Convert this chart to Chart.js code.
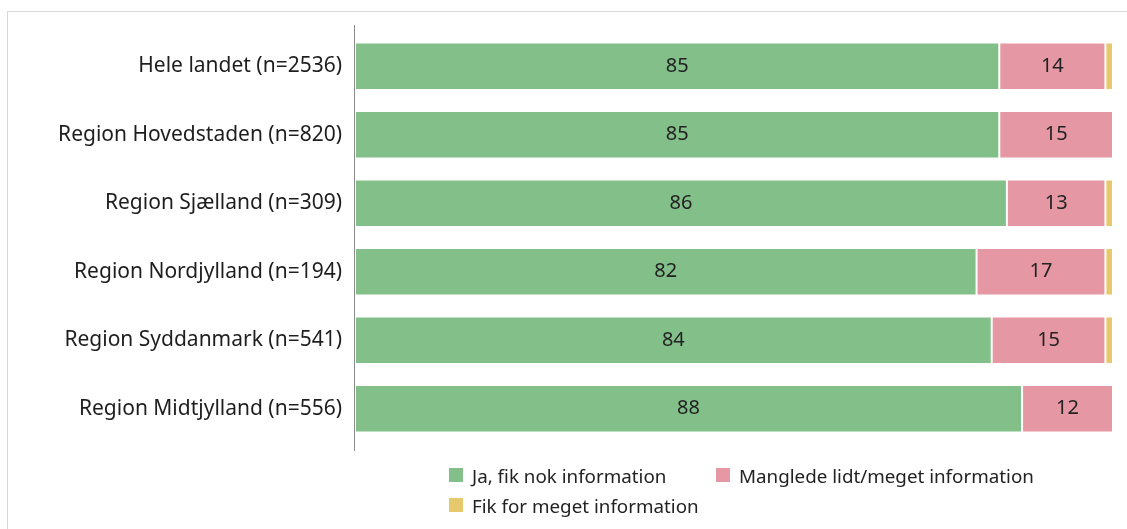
<!DOCTYPE html>
<html>
<head>
<meta charset="utf-8">
<script src="https://cdn.jsdelivr.net/npm/chart.js@4/dist/chart.umd.min.js"></script>
<style>
  html, body { margin: 0; padding: 0; background: #fff; }
  #wrap { position: relative; width: 1127px; height: 529px; overflow: hidden; }
  #frame { position: absolute; left: 7px; top: 11px; width: 1200px; height: 600px;
           border-left: 1px solid #d9d9d9; border-top: 1px solid #d9d9d9; }
  canvas { position: absolute; left: 0; top: 0; }
  .leg { position: absolute; font-family: "Noto Sans", sans-serif; font-size: 18.8px; color: #222; }
  .leg span { position: absolute; left: 0; top: 4px; width: 14px; height: 14px; }
  .leg div { position: absolute; left: 23px; top: 0; white-space: nowrap; line-height: 24px; }
</style>
</head>
<body>
<div id="wrap">
  <div id="frame"></div>
  <canvas id="infoChart" width="1127" height="529"></canvas>
  <div id="legend"></div>
</div>
<script>
// DATA
const regions = ['Hele landet (n=2536)', 'Region Hovedstaden (n=820)', 'Region Sjælland (n=309)',
                 'Region Nordjylland (n=194)', 'Region Syddanmark (n=541)', 'Region Midtjylland (n=556)'];
const seriesNames = ['Ja, fik nok information', 'Manglede lidt/meget information', 'Fik for meget information'];
const nokInfo = [85, 85, 86, 82, 84, 88];
const mangledeInfo = [14, 15, 13, 17, 15, 12];
const forMegetInfo = [1, 0, 1, 1, 1, 0];
const colors = ['#82bf89', '#e598a4', '#e7c96d'];

// value labels in the middle of each segment
const valueLabels = {
    id: 'valueLabels',
    afterDatasetsDraw(chart) {
        const c = chart.ctx;
        c.save();
        c.font = '20px "Noto Sans", sans-serif';
        c.fillStyle = '#222';
        c.textAlign = 'center';
        c.textBaseline = 'middle';
        chart.data.datasets.forEach((ds, i) => {
            chart.getDatasetMeta(i).data.forEach((bar, j) => {
                const v = ds.data[j];
                if (v < 5) return;
                c.fillText(v, (bar.x + bar.base) / 2, bar.y);
            });
        });
        c.restore();
    }
};

// left axis line, a bit longer than the plot area
const axisLine = {
    id: 'axisLine',
    afterDraw(chart) {
        const c = chart.ctx;
        const a = chart.chartArea;
        c.save();
        c.strokeStyle = '#8c8c8c';
        c.lineWidth = 1;
        c.beginPath();
        c.moveTo(a.left - 0.5, 25);
        c.lineTo(a.left - 0.5, 451);
        c.stroke();
        c.restore();
    }
};

const ctx = document.getElementById('infoChart').getContext('2d');
const infoChart = new Chart(ctx, {
    type: 'bar',
    data: {
        labels: regions,
        datasets: [nokInfo, mangledeInfo, forMegetInfo].map((d, i) => ({
            label: seriesNames[i],
            data: d,
            backgroundColor: colors[i],
            borderColor: 'rgba(255,255,255,0.85)',
            borderWidth: 1,
            borderSkipped: false,
            categoryPercentage: 0.69,
            barPercentage: 1
        }))
    },
    options: {
        indexAxis: 'y',
        responsive: false,
        animation: false,
        layout: { padding: { top: 32, bottom: 86, right: 14, left: 0 } },
        scales: {
            x: { stacked: true, min: 0, max: 100, display: false },
            y: {
                stacked: true,
                grid: { display: false, drawTicks: false },
                border: { display: false },
                ticks: {
                    padding: 13,
                    color: '#1e1e1e',
                    font: { family: '"Noto Sans", sans-serif', size: 21 }
                },
                afterFit(scale) { scale.width = 355; }
            }
        },
        plugins: {
            legend: { display: false },
            tooltip: { enabled: false }
        }
    },
    plugins: [valueLabels, axisLine]
});

// legend as html text
const legendPos = [[449, 464], [716, 464], [449, 494]];
const legend = document.getElementById('legend');
seriesNames.forEach((name, i) => {
    const item = document.createElement('div');
    item.className = 'leg';
    item.style.left = legendPos[i][0] + 'px';
    item.style.top = legendPos[i][1] + 'px';
    const box = document.createElement('span');
    box.style.background = colors[i];
    const txt = document.createElement('div');
    txt.textContent = name;
    item.appendChild(box);
    item.appendChild(txt);
    legend.appendChild(item);
});
</script>
</body>
</html>
